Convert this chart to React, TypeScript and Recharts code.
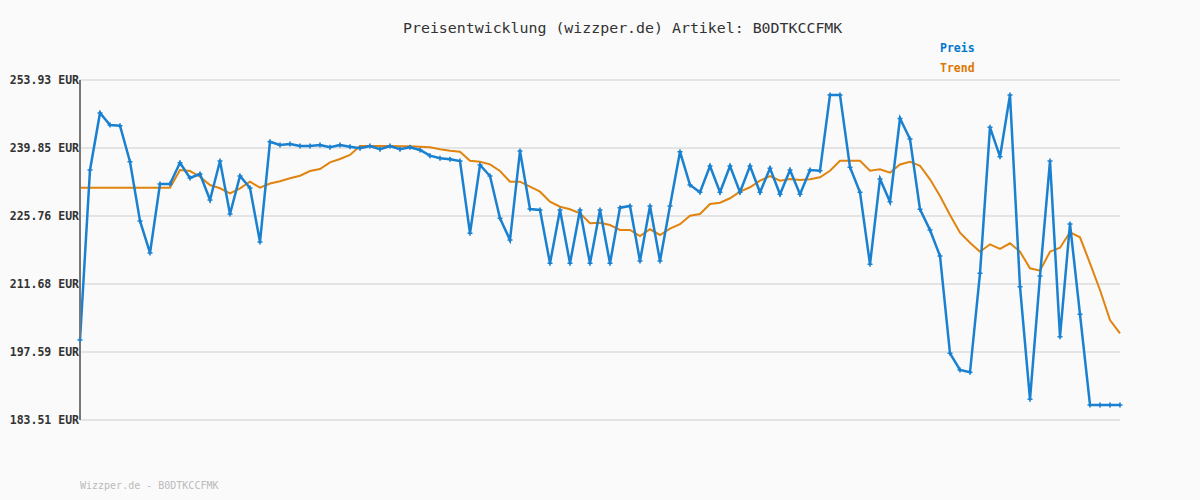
import { LineChart, Line, XAxis, YAxis, CartesianGrid } from "recharts";

const preis = [
  200.08, 235.29, 247.1, 244.61, 244.46, 237.01, 224.73, 218.1, 232.39, 232.39,
  236.8, 233.63, 234.46, 229.08, 237.15, 226.18, 234.05, 231.56, 220.38, 241.15,
  240.47, 240.67, 240.26, 240.26, 240.47, 239.99, 240.47, 240.12, 239.78, 240.26,
  239.58, 240.26, 239.58, 239.99, 239.43, 238.25, 237.71, 237.51, 237.15, 222.18,
  236.32, 234.05, 225.29, 220.79, 239.22, 227.21, 227.0, 215.97, 227.0, 215.97,
  227.0, 215.97, 227.0, 215.97, 227.48, 227.83, 216.44, 227.83, 216.44, 227.83,
  239.08, 232.18, 230.67, 236.12, 230.67, 236.12, 230.67, 236.12, 230.67, 235.64,
  230.26, 235.29, 230.26, 235.29, 235.14, 250.82, 250.82, 235.85, 230.67, 215.76,
  233.43, 228.72, 245.96, 241.71, 227.15, 222.86, 217.48, 197.32, 193.87, 193.39,
  213.89, 244.13, 238.04, 250.82, 211.12, 187.8, 213.33, 237.15, 200.76, 224.11,
  205.4, 186.62, 186.62, 186.62, 186.62,
];

const trend = [
  231.62, 231.62, 231.62, 231.62, 231.62, 231.62, 231.62, 231.62, 231.62, 231.62,
  235.29, 235.08, 233.9, 232.18, 231.5, 230.46, 231.5, 232.87, 231.62, 232.49,
  232.95, 233.57, 234.11, 235.08, 235.5, 236.88, 237.57, 238.4, 240.26, 240.26,
  240.26, 240.26, 240.2, 240.2, 240.12, 239.99, 239.58, 239.29, 239.08, 237.22,
  237.01, 236.47, 235.08, 232.87, 232.87, 231.83, 230.8, 228.72, 227.69, 227.15,
  226.32, 224.25, 224.37, 223.9, 222.86, 222.86, 221.62, 223.01, 221.83, 223.13,
  224.06, 225.82, 226.18, 228.25, 228.52, 229.43, 230.8, 231.71, 233.07, 234.05,
  233.07, 233.43, 233.22, 233.36, 233.78, 235.14, 237.22, 237.22, 237.22, 235.14,
  235.43, 234.73, 236.43, 237.01, 236.18, 233.36, 229.9, 225.97, 222.3, 220.23,
  218.37, 219.9, 218.93, 220.11, 218.37, 214.93, 214.43, 218.37, 219.2, 222.39,
  221.35, 215.97, 210.44, 204.22, 201.47,
];

const yTicks = [183.51, 197.59, 211.68, 225.76, 239.85, 253.93];

const data = preis.map((p, i) => ({ idx: i, preis: p, trend: trend[i] }));

const BLUE = "#1a80d0";
const ORANGE = "#e0840f";
const MONO = "'DejaVu Sans Mono', 'Liberation Mono', monospace";

// small "+" marker on each price point
const PlusDot = (props: any) => {
  const { cx, cy, index } = props;
  if (cx == null || cy == null) return null;
  return (
    <path
      key={`dot-${index}`}
      d={`M${cx - 2.5},${cy}H${cx + 2.5}M${cx},${cy - 2.5}V${cy + 2.5}`}
      stroke={BLUE}
      strokeWidth={1.6}
    />
  );
};

// plain text tick so the label doesn't get wrapped
const EurTick = (props: any) => {
  const { x, y, payload } = props;
  return (
    <text
      x={x}
      y={y}
      dy={4}
      textAnchor="end"
      fill="#333"
      fontSize={11.5}
      fontWeight="bold"
      fontFamily={MONO}
    >
      {`${Number(payload.value).toFixed(2)} EUR`}
    </text>
  );
};

export default function App() {
  return (
    <div style={{ position: "relative", width: 1200, height: 500, background: "#fafafa" }}>
      <style>{"body{margin:0}"}</style>
      <LineChart
        width={1200}
        height={500}
        data={data}
        margin={{ top: 80, right: 80, bottom: 80, left: 8 }}
      >
        <CartesianGrid vertical={false} stroke="#e4e4e4" strokeWidth={2} />
        <XAxis
          dataKey="idx"
          height={0}
          tick={false}
          tickLine={false}
          axisLine={{ stroke: "#777", strokeWidth: 2 }}
        />
        <YAxis
          width={72}
          domain={[183.51, 253.93]}
          ticks={yTicks}
          tickSize={0}
          tickMargin={1}
          axisLine={{ stroke: "#777", strokeWidth: 2 }}
          tick={<EurTick />}
        />
        <Line
          dataKey="trend"
          stroke={ORANGE}
          strokeWidth={2}
          dot={false}
          isAnimationActive={false}
        />
        <Line
          dataKey="preis"
          stroke={BLUE}
          strokeWidth={2.5}
          dot={<PlusDot />}
          isAnimationActive={false}
        />
      </LineChart>
      <div
        style={{
          position: "absolute",
          left: 403,
          top: 19,
          fontFamily: MONO,
          fontSize: 14.9,
          color: "#333",
          whiteSpace: "nowrap",
        }}
      >
        Preisentwicklung (wizzper.de) Artikel: B0DTKCCFMK
      </div>
      <div
        style={{
          position: "absolute",
          left: 940,
          top: 41,
          fontFamily: MONO,
          fontSize: 11.5,
          fontWeight: "bold",
          color: "#0077cc",
        }}
      >
        Preis
      </div>
      <div
        style={{
          position: "absolute",
          left: 940,
          top: 61,
          fontFamily: MONO,
          fontSize: 11.5,
          fontWeight: "bold",
          color: "#dd7700",
        }}
      >
        Trend
      </div>
      <div
        style={{
          position: "absolute",
          left: 80,
          top: 480,
          fontFamily: MONO,
          fontSize: 10,
          color: "#bbb",
          whiteSpace: "nowrap",
        }}
      >
        Wizzper.de - B0DTKCCFMK
      </div>
    </div>
  );
}
